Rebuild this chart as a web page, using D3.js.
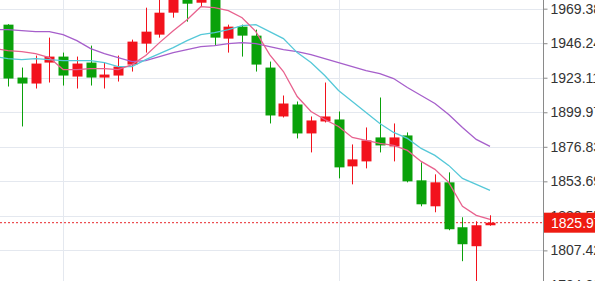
<!DOCTYPE html>
<html>
<head>
<meta charset="utf-8">
<title>Candles</title>
<script src="https://d3js.org/d3.v7.min.js"></script>
<style>
body { margin: 0; background: #fff; }
svg { display: block; }
</style>
</head>
<body>
<script type="text/javascript">

// candles, oldest first (red = up, green = down)
var opens  = [1958.68, 1923.23, 1919.22, 1933.27, 1937.28, 1923.90, 1933.27, 1923.23, 1924.57, 1931.93,
              1945.97, 1951.99, 1966.70, 1979.41, 1973.39, 1976.74, 1949.32, 1957.34, 1951.32, 1929.92,
              1897.15, 1905.18, 1885.78, 1893.81, 1895.14, 1863.71, 1867.05, 1883.11, 1877.09, 1884.44,
              1854.35, 1836.96, 1853.01, 1822.91, 1810.21, 1824.25];
var highs  = [1959.00, 1929.92, 1937.95, 1949.98, 1939.95, 1937.28, 1944.63, 1933.27, 1937.95, 1948.65,
              1970.05, 1978.74, 1983.42, 1985.43, 1984.76, 1979.41, 1958.68, 1958.68, 1955.34, 1933.93,
              1911.20, 1907.18, 1897.15, 1919.89, 1900.49, 1878.42, 1889.79, 1909.86, 1892.47, 1886.45,
              1866.38, 1858.36, 1859.70, 1829.60, 1826.93, 1830.94];
var lows   = [1917.22, 1890.46, 1915.88, 1919.89, 1917.88, 1915.88, 1917.88, 1915.88, 1920.56, 1927.25,
              1939.95, 1949.98, 1963.36, 1960.69, 1970.72, 1944.63, 1939.95, 1937.28, 1927.25, 1892.47,
              1896.48, 1882.44, 1873.07, 1893.14, 1855.68, 1851.67, 1862.37, 1873.07, 1867.05, 1853.01,
              1836.96, 1832.95, 1820.91, 1800.17, 1781.45, 1823.91];
var closes = [1922.56, 1919.22, 1932.60, 1937.28, 1924.57, 1932.60, 1923.23, 1925.24, 1930.59, 1947.31,
              1953.99, 1966.70, 1978.07, 1972.72, 1980.75, 1949.98, 1957.34, 1951.32, 1931.93, 1897.82,
              1905.84, 1885.78, 1894.48, 1897.15, 1863.04, 1868.39, 1881.10, 1877.76, 1883.11, 1853.68,
              1838.30, 1853.01, 1821.58, 1811.54, 1824.25, 1825.97];

// moving averages, first value belongs to the candle just left of the window
var maFast = [1942.63, 1941.29, 1940.62, 1939.28, 1936.61, 1928.58, 1928.58, 1929.25, 1929.25, 1928.58,
              1931.93, 1937.95, 1946.64, 1954.67, 1962.02, 1970.72, 1970.05, 1968.04, 1963.36, 1954.00,
              1938.62, 1927.25, 1910.53, 1900.49, 1895.14, 1890.46, 1883.11, 1881.10, 1879.09, 1877.76,
              1874.41, 1867.05, 1861.70, 1853.01, 1836.96, 1830.94, 1828.26];
var maMid  = [1937.28, 1935.94, 1935.27, 1935.94, 1935.27, 1934.60, 1934.60, 1934.60, 1933.27, 1930.59,
              1930.59, 1935.27, 1939.28, 1943.30, 1947.98, 1951.99, 1953.33, 1955.34, 1958.01, 1958.68,
              1954.00, 1949.32, 1939.95, 1933.27, 1924.57, 1914.54, 1907.18, 1899.83, 1892.47, 1886.45,
              1882.44, 1875.75, 1871.07, 1864.38, 1855.68, 1851.67, 1847.66];
var maSlow = [1955.34, 1955.34, 1954.67, 1954.00, 1954.00, 1951.99, 1947.98, 1942.63, 1939.28, 1936.61,
              1933.93, 1934.60, 1937.28, 1939.95, 1941.96, 1943.97, 1944.64, 1945.97, 1946.64, 1945.97,
              1943.97, 1941.96, 1940.62, 1938.62, 1935.94, 1933.27, 1930.59, 1927.92, 1925.91, 1922.56,
              1916.55, 1911.20, 1905.84, 1898.49, 1889.79, 1881.77, 1877.09];

var priceTicks = [1969.38, 1946.24, 1923.11, 1899.97, 1876.83, 1853.69, 1830.55, 1807.42, 1784.28];
var sessionStarts = [4, 24];   // candles where the vertical grid lines sit
var lastPrice = 1825.97;

var width = 595;
var height = 281;
var plotRight = 543;

var upColor = "#f2121c";
var downColor = "#0aa10a";

var svg = d3.select("body")
            .append("svg")
            .attr("width", width)
            .attr("height", height);

var x = d3.scaleLinear().domain([0, closes.length - 1]).range([8, 490]);
var y = d3.scaleLinear().domain([1786.9, 1975.2]).range([height, 0]);
var bodyW = 10;

svg.append("defs").append("clipPath")
   .attr("id", "plot")
   .append("rect")
   .attr("x", 0).attr("y", 0)
   .attr("width", plotRight).attr("height", height);

var gGrid = svg.append("g");
var gPlot = svg.append("g").attr("clip-path", "url(#plot)");
var gAxis = svg.append("g");

// horizontal grid
gGrid.selectAll(".hgrid")
     .data(priceTicks)
     .enter()
     .append("line")
     .attr("x1", 0)
     .attr("x2", plotRight)
     .attr("y1", function(d){ return Math.round(y(d)) + 0.5; })
     .attr("y2", function(d){ return Math.round(y(d)) + 0.5; })
     .attr("stroke", "#e4e8ef")
     .attr("stroke-width", 1);

// vertical grid
gGrid.selectAll(".vgrid")
     .data(sessionStarts)
     .enter()
     .append("line")
     .attr("x1", function(d){ return Math.round(x(d)) + 0.5; })
     .attr("x2", function(d){ return Math.round(x(d)) + 0.5; })
     .attr("y1", 0)
     .attr("y2", height)
     .attr("stroke", "#e4e8ef")
     .attr("stroke-width", 1);

// last price line
gPlot.append("line")
     .attr("x1", 0)
     .attr("x2", plotRight)
     .attr("y1", y(lastPrice))
     .attr("y2", y(lastPrice))
     .attr("stroke", "#e8262a")
     .attr("stroke-width", 1)
     .attr("stroke-dasharray", "2,2");

var candles = closes.map(function(c, i){
    return {i: i, o: opens[i], h: highs[i], l: lows[i], c: c};
});

function candleColor(d){
    return d.c >= d.o ? upColor : downColor;
}

var candle = gPlot.selectAll(".candle")
                  .data(candles)
                  .enter()
                  .append("g");

candle.append("line")
      .attr("x1", function(d){ return Math.round(x(d.i)) + 0.5; })
      .attr("x2", function(d){ return Math.round(x(d.i)) + 0.5; })
      .attr("y1", function(d){ return y(d.h); })
      .attr("y2", function(d){ return y(d.l); })
      .attr("stroke", candleColor)
      .attr("stroke-width", 1);

candle.append("rect")
      .attr("x", function(d){ return Math.round(x(d.i)) - bodyW / 2 + 0.5; })
      .attr("y", function(d){ return y(Math.max(d.o, d.c)); })
      .attr("width", bodyW)
      .attr("height", function(d){
          return Math.max(1, y(Math.min(d.o, d.c)) - y(Math.max(d.o, d.c)));
      })
      .attr("fill", candleColor);

// moving averages
var maLine = d3.line()
               .x(function(d, i){ return x(i - 1); })
               .y(function(d){ return y(d); });

var averages = [
    {values: maSlow, color: "#a65fcb"},
    {values: maMid, color: "#55c8d8"},
    {values: maFast, color: "#e8628e"}
];

gPlot.selectAll(".ma")
     .data(averages)
     .enter()
     .append("path")
     .attr("d", function(d){ return maLine(d.values); })
     .attr("fill", "none")
     .attr("stroke", function(d){ return d.color; })
     .attr("stroke-width", 1.3);

// price axis
gAxis.append("rect")
     .attr("x", plotRight)
     .attr("y", 0)
     .attr("width", width - plotRight)
     .attr("height", height)
     .attr("fill", "#fff");

var axis = d3.axisRight(y)
             .tickValues(priceTicks)
             .tickSize(4)
             .tickPadding(3)
             .tickFormat(d3.format(".2f"));

var ax = gAxis.append("g")
              .attr("transform", "translate(" + (plotRight + 0.5) + ",0)")
              .call(axis);

ax.select(".domain").attr("stroke", "#8a8a8a").attr("d", "M0,0V" + height);
ax.selectAll(".tick line").attr("stroke", "#8a8a8a");
ax.selectAll(".tick text")
  .attr("fill", "#333")
  .style("font-family", "'Liberation Sans', Arial, sans-serif")
  .style("font-size", "14px");

// current price tag
var tagY = y(lastPrice);
gAxis.append("rect")
     .attr("x", plotRight + 1)
     .attr("y", tagY - 10)
     .attr("width", width - plotRight)
     .attr("height", 20)
     .attr("fill", "#ee1c12");

gAxis.append("text")
     .attr("x", plotRight + 8)
     .attr("y", tagY)
     .attr("dy", "0.35em")
     .attr("fill", "#fff")
     .style("font-family", "'Liberation Sans', Arial, sans-serif")
     .style("font-size", "14px")
     .text(d3.format(".2f")(lastPrice));

</script>
</body>
</html>
